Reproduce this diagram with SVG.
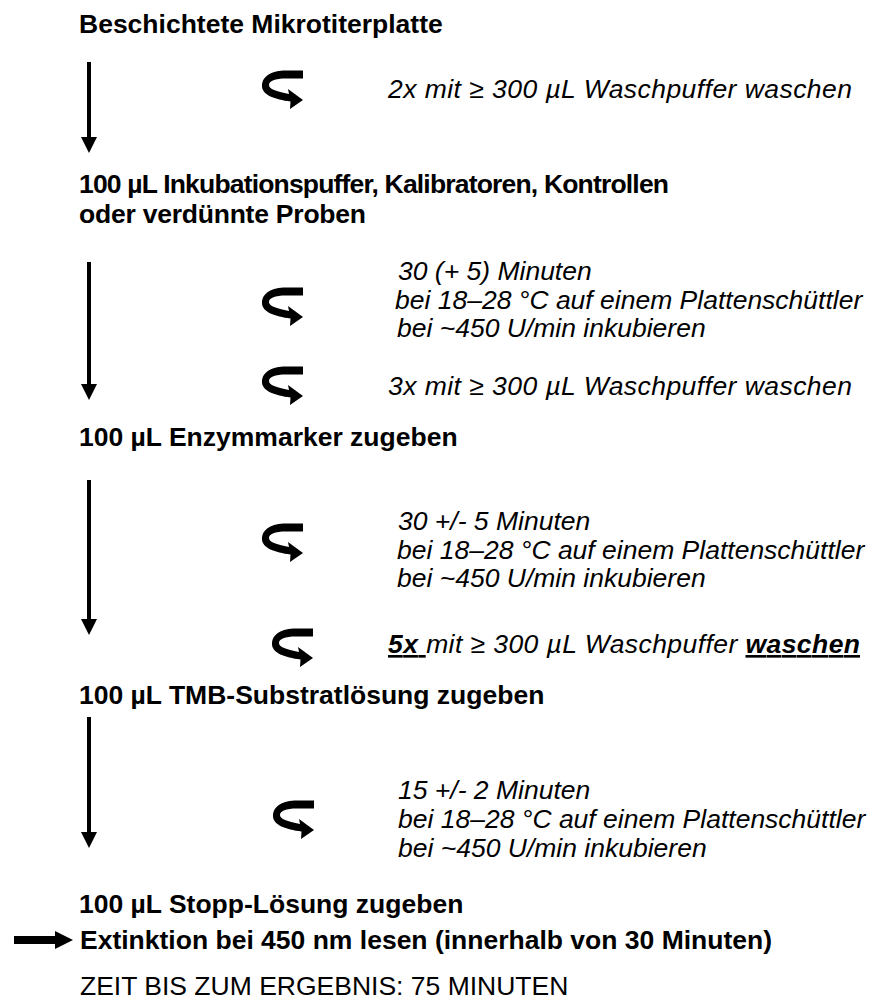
<svg xmlns="http://www.w3.org/2000/svg" width="876" height="1005" viewBox="0 0 876 1005">
<style>
text{font-family:"Liberation Sans",Arial,sans-serif;font-size:26.5px;fill:#000}
.b{font-weight:bold}
.i{font-style:italic}
.shaft{stroke:#000;stroke-width:4;fill:none}
.u{text-decoration:underline}
</style>
<defs>
<marker id="ah" markerWidth="16" markerHeight="16" viewBox="0 0 16 16" refX="4" refY="8" orient="auto" markerUnits="userSpaceOnUse">
<path d="M0,0 L16,8 L0,16 Z" fill="#000"/>
</marker>
<g id="turn">
<path d="M41,0.5 L41,8.5 L24,8.5 C13,8.5 7,11 7,15 C7,19 14,21.5 27,24 L26,19 L41,30 L28,39 L28.5,31.5 C13,29.5 0,25 0,16 C0,6 10,0.5 24,0.5 Z" fill="#000"/>
</g>
</defs>
<rect width="876" height="1005" fill="#fff"/>

<g id="connectors">
<line class="shaft" x1="89" y1="62" x2="89" y2="141" marker-end="url(#ah)"/>
<line class="shaft" x1="89" y1="262" x2="89" y2="388" marker-end="url(#ah)"/>
<line class="shaft" x1="89" y1="480" x2="89" y2="623" marker-end="url(#ah)"/>
<line class="shaft" x1="89" y1="717" x2="89" y2="836" marker-end="url(#ah)"/>
<path d="M14,936 L55,936 L55,931 L73,940 L55,949 L55,944 L14,944 Z" fill="#000"/>
</g>

<g id="icons">
<use href="#turn" x="262" y="70"/>
<use href="#turn" x="262" y="287"/>
<use href="#turn" x="262" y="366"/>
<use href="#turn" x="262" y="523"/>
<use href="#turn" x="272" y="628"/>
<use href="#turn" x="273" y="800"/>
</g>

<g id="step1"><text class="b" x="79" y="33">Beschichtete Mikrotiterplatte</text></g>
<g id="wash1"><text class="i" x="388" y="98" textLength="464" lengthAdjust="spacing">2x mit ≥ 300 µL Waschpuffer waschen</text></g>
<g id="step2">
<text class="b" x="79" y="193" textLength="590" lengthAdjust="spacing">100 µL Inkubationspuffer, Kalibratoren, Kontrollen</text>
<text class="b" x="79" y="223" textLength="287" lengthAdjust="spacing">oder verdünnte Proben</text>
</g>
<g id="incub1">
<text class="i" x="398" y="280">30 (+ 5) Minuten</text>
<text class="i" x="395" y="309">bei 18–28 °C auf einem Plattenschüttler</text>
<text class="i" x="397" y="337">bei ~450 U/min inkubieren</text>
</g>
<g id="wash2"><text class="i" x="388" y="395" textLength="464" lengthAdjust="spacing">3x mit ≥ 300 µL Waschpuffer waschen</text></g>
<g id="step3"><text class="b" x="79" y="446">100 µL Enzymmarker zugeben</text></g>
<g id="incub2">
<text class="i" x="398" y="530">30 +/- 5 Minuten</text>
<text class="i" x="397" y="559">bei 18–28 °C auf einem Plattenschüttler</text>
<text class="i" x="397" y="587">bei ~450 U/min inkubieren</text>
</g>
<g id="wash3"><text class="i" x="388" y="653" textLength="472" lengthAdjust="spacing"><tspan class="b u">5x </tspan>mit ≥ 300 µL Waschpuffer <tspan class="b u">waschen</tspan></text></g>
<g id="step4"><text class="b" x="79" y="704">100 µL TMB-Substratlösung zugeben</text></g>
<g id="incub3">
<text class="i" x="398" y="799">15 +/- 2 Minuten</text>
<text class="i" x="398" y="828">bei 18–28 °C auf einem Plattenschüttler</text>
<text class="i" x="398" y="857">bei ~450 U/min inkubieren</text>
</g>
<g id="step5"><text class="b" x="79" y="913">100 µL Stopp-Lösung zugeben</text></g>
<g id="read"><text class="b" x="80" y="949">Extinktion bei 450 nm lesen (innerhalb von 30 Minuten)</text></g>
<g id="time"><text x="80" y="995">ZEIT BIS ZUM ERGEBNIS: 75 MINUTEN</text></g>
</svg>
